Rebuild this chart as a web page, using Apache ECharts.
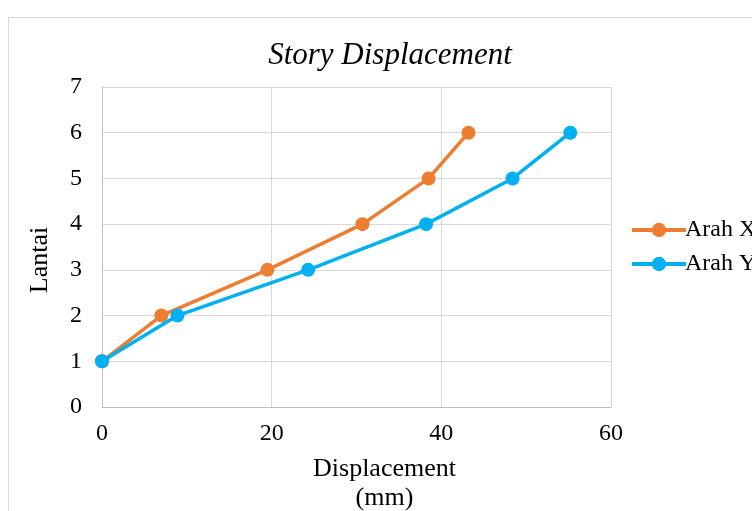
<!DOCTYPE html>
<html>
<head>
<meta charset="utf-8">
<script src="https://cdn.jsdelivr.net/npm/echarts@6/dist/echarts.min.js"></script>
<style>html,body{margin:0;padding:0;background:#fff;}#c{width:752px;height:511px;}</style>
</head>
<body>
<div id="c"></div>
<script>
const floors = [1, 2, 3, 4, 5, 6];
const arahX = [0, 7.0, 19.5, 30.7, 38.5, 43.2];
const arahY = [0, 8.9, 24.3, 38.2, 48.4, 55.2];
const xTicks = [0, 20, 40, 60];
const yTicks = [0, 1, 2, 3, 4, 5, 6, 7];

const font = '"Liberation Serif", "Times New Roman", serif';
const chart = echarts.init(document.getElementById('c'));
const toPairs = (xs) => xs.map((v, i) => [v, floors[i]]);
chart.setOption({
  animation: false,
  backgroundColor: '#fff',
  graphic: [{
    type: 'rect', shape: {x: 8.5, y: 17.5, width: 760, height: 520},
    style: {fill: 'none', stroke: '#d9d9d9', lineWidth: 1}, silent: true, z: -1
  }],
  title: {
    text: 'Story Displacement', left: 385, top: 35, textAlign: 'center',
    textStyle: {fontFamily: font, fontStyle: 'italic', fontWeight: 'normal', fontSize: 31, color: '#000'}
  },
  legend: {
    orient: 'vertical', left: 625, top: 213, itemWidth: 54, itemHeight: 18, itemGap: 10,
    lineStyle: {width: 4},
    textStyle: {fontFamily: font, fontSize: 24, color: '#000', padding: [0, 0, 0, -6]},
    data: ['Arah X', 'Arah Y']
  },
  grid: {left: 102, right: 141, top: 87, bottom: 104, containLabel: false, outerBoundsMode: 'none'},
  xAxis: {
    type: 'value', min: xTicks[0], max: xTicks[xTicks.length - 1], interval: 20,
    name: 'Displacement\n(mm)', nameLocation: 'middle', nameGap: 48,
    nameTextStyle: {fontFamily: font, fontSize: 26, color: '#000', lineHeight: 29, verticalAlign: 'top', padding: [0, 0, 0, 56]},
    axisLine: {show: true, lineStyle: {color: '#bfbfbf', width: 1}},
    axisTick: {show: false},
    axisLabel: {fontFamily: font, fontSize: 24, color: '#000', margin: 15},
    splitLine: {show: true, lineStyle: {color: '#d9d9d9', width: 1}}
  },
  yAxis: {
    type: 'value', min: yTicks[0], max: yTicks[yTicks.length - 1], interval: 1,
    name: 'Lantai', nameLocation: 'middle', nameGap: 49, nameRotate: 90,
    nameTextStyle: {fontFamily: font, fontSize: 26, color: '#000', padding: [0, 26, 0, 0]},
    axisLine: {show: true, lineStyle: {color: '#bfbfbf', width: 1}},
    axisTick: {show: false},
    axisLabel: {fontFamily: font, fontSize: 24, color: '#000', margin: 20},
    splitLine: {show: true, lineStyle: {color: '#d9d9d9', width: 1}}
  },
  series: [
    {name: 'Arah X', type: 'line', data: toPairs(arahX), symbol: 'circle', symbolSize: 14,
     lineStyle: {color: '#ED7D31', width: 3.5}, itemStyle: {color: '#ED7D31'}, z: 2},
    {name: 'Arah Y', type: 'line', data: toPairs(arahY), symbol: 'circle', symbolSize: 14,
     lineStyle: {color: '#00B0F0', width: 3.5}, itemStyle: {color: '#00B0F0'}, z: 3}
  ]
});
</script>
</body>
</html>
